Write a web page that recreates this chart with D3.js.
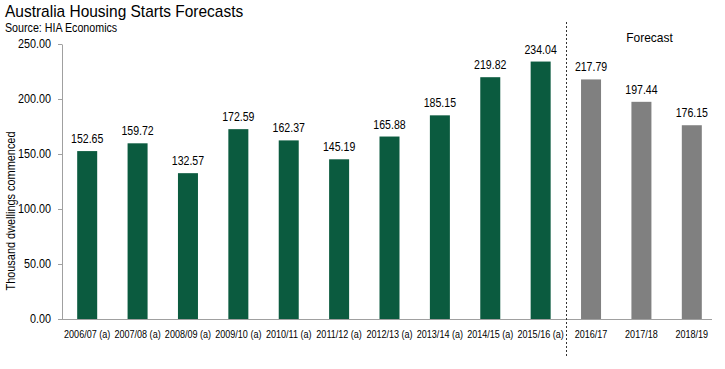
<!DOCTYPE html>
<html><head><meta charset="utf-8">
<script src="https://cdn.jsdelivr.net/npm/d3@7"></script>
<style>body{margin:0;background:#fff}svg{display:block;font-family:"Liberation Sans",Arial,sans-serif}</style>
</head><body><svg id="c" width="725" height="369"></svg>
<script>
const categories = ["2006/07 (a)","2007/08 (a)","2008/09 (a)","2009/10 (a)","2010/11 (a)","2011/12 (a)","2012/13 (a)","2013/14 (a)","2014/15 (a)","2015/16 (a)","2016/17","2017/18","2018/19"];
const values = [152.65,159.72,132.57,172.59,162.37,145.19,165.88,185.15,219.82,234.04,217.79,197.44,176.15];
const isForecast = [false,false,false,false,false,false,false,false,false,false,true,true,true];
const yTicks = [0,50,100,150,200,250];
const title = "Australia Housing Starts Forecasts";
const source = "Source: HIA Economics";
const yTitle = "Thousand dwellings commenced";
const forecastLabel = "Forecast";

const svg = d3.select("#c");
const x = d3.scaleBand().domain(categories).range([62, 717]).paddingInner(0.6).paddingOuter(0.3);
const y = d3.scaleLinear().domain([0,250]).range([319,44]);

function condense(sel, f){
  sel.each(function(){
    const w = this.getComputedTextLength();
    d3.select(this).attr("textLength", w*f).attr("lengthAdjust","spacingAndGlyphs");
  });
}

svg.append("text").attr("x",5).attr("y",17).attr("font-size",17).attr("fill","#000").text(title).call(condense,0.91);
svg.append("text").attr("x",5).attr("y",32).attr("font-size",12).attr("fill","#000").text(source).call(condense,0.89);

// y axis
const ya = svg.append("g").attr("transform","translate(62,0)")
  .call(d3.axisLeft(y).tickValues(yTicks).tickFormat(d3.format(".2f")).tickSize(4).tickSizeOuter(0));
ya.select(".domain").attr("stroke","#a0a0a0");
ya.selectAll(".tick line").attr("stroke","#a0a0a0");
ya.selectAll(".tick text").attr("font-size",12).attr("fill","#000").attr("font-family","Liberation Sans, Arial, sans-serif").attr("x",-11).call(condense,0.9);

// x axis line
svg.append("line").attr("x1",62).attr("x2",712).attr("y1",319.5).attr("y2",319.5).attr("stroke","#a0a0a0");

svg.append("text").attr("transform","translate(15,211) rotate(-90)").attr("text-anchor","middle").attr("font-size",12).text(yTitle).call(condense,0.91);

const bw = 20;
svg.selectAll("rect.bar").data(values).enter().append("rect")
  .attr("x",(d,i)=>x(categories[i])+x.bandwidth()/2-bw/2)
  .attr("width",bw)
  .attr("y",d=>y(d)).attr("height",d=>y(0)-y(d))
  .attr("fill",(d,i)=>isForecast[i]?"#808080":"#0b5b3f");

svg.selectAll("text.val").data(values).enter().append("text")
  .attr("x",(d,i)=>x(categories[i])+x.bandwidth()/2)
  .attr("y",d=>y(d)-8).attr("text-anchor","middle").attr("font-size",12).text(d=>d.toFixed(2)).call(condense,0.88);

svg.selectAll("text.cat").data(categories).enter().append("text")
  .attr("x",d=>x(d)+x.bandwidth()/2).attr("y",337.5).attr("text-anchor","middle").attr("font-size",10.5)
  .text(d=>d).call(condense,0.86);

const step = x.step();
const divX = Math.round(x(categories[10]) + x.bandwidth()/2 - step/2) + 0.5;
svg.append("line").attr("x1",divX).attr("x2",divX).attr("y1",22).attr("y2",358).attr("stroke","#333").attr("stroke-dasharray","2,2");
svg.append("text").attr("x",divX+83).attr("y",42).attr("text-anchor","middle").attr("font-size",13).text(forecastLabel).call(condense,0.92);
</script></body></html>
